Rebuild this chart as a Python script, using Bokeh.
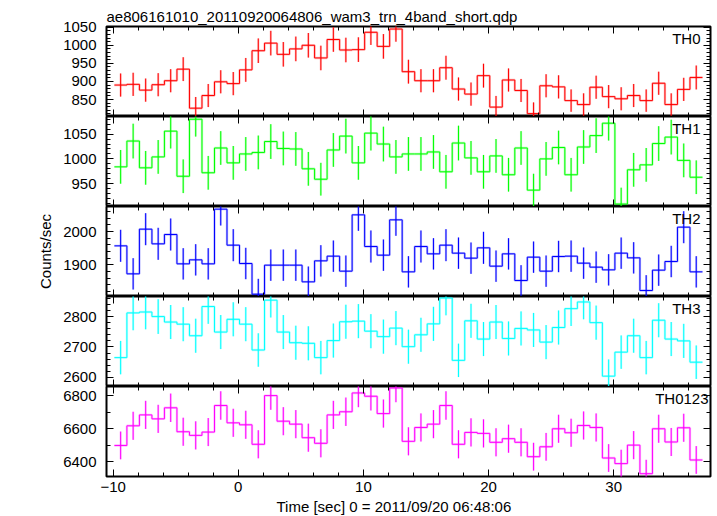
from bokeh.plotting import figure
from bokeh.layouts import column
from bokeh.models import FixedTicker, LinearAxis, Range1d, Label, Title
from bokeh.embed import file_html
from bokeh.resources import INLINE

# ---------------- data ----------------
title_text = "ae806161010_20110920064806_wam3_trn_4band_short.qdp"
x_label = "Time [sec] 0 = 2011/09/20 06:48:06"
y_label = "Counts/sec"

time = [-9.4, -8.4, -7.4, -6.4, -5.4, -4.4, -3.4, -2.4, -1.4, -0.4,
        0.6, 1.6, 2.6, 3.6, 4.6, 5.6, 6.6, 7.6, 8.6, 9.6,
        10.6, 11.6, 12.6, 13.6, 14.6, 15.6, 16.6, 17.6, 18.6, 19.6,
        20.6, 21.6, 22.6, 23.6, 24.6, 25.6, 26.6, 27.6, 28.6, 29.6,
        30.6, 31.6, 32.6, 33.6, 34.6, 35.6, 36.6]
bin_width = 1.0

th0 = [890, 892, 876, 891, 902, 934, 826, 861, 899, 894, 932, 985, 1006, 975, 990, 1000,
       965, 1016, 987, 988, 1036, 997, 1045, 927, 902, 902, 938, 879, 865, 916, 829, 904,
       875, 811, 888, 885, 847, 836, 884, 858, 852, 861, 847, 895, 836, 878, 911]
th0_err = [32, 32, 32, 32, 32, 33, 31, 32, 32, 32, 33, 34, 34, 34, 34, 34,
           34, 34, 34, 34, 35, 34, 35, 33, 32, 32, 33, 32, 32, 33, 31, 32,
           32, 31, 32, 32, 31, 31, 32, 32, 32, 32, 31, 32, 31, 32, 33]

th1 = [984, 1036, 982, 1004, 1056, 965, 1080, 972, 1022, 992, 1010, 1013, 1035, 1021, 1020, 980,
       959, 1018, 1046, 992, 1052, 1030, 1004, 1010, 1010, 1014, 974, 1032, 1002, 974, 1006, 968,
       1022, 937, 1000, 1023, 968, 1024, 1047, 1072, 909, 978, 988, 1031, 1044, 997, 963]
th1_err = [34, 35, 34, 34, 35, 34, 35, 34, 34, 34, 34, 34, 35, 34, 34, 34,
           33, 34, 35, 34, 35, 35, 34, 34, 34, 34, 34, 35, 34, 34, 34, 34,
           34, 33, 34, 34, 34, 34, 35, 35, 33, 34, 34, 35, 35, 34, 34]

th2 = [1957, 1873, 2007, 1963, 1991, 1903, 1915, 1903, 2067, 1959, 1904, 1812, 1899, 1899, 1899, 1849,
       1912, 1926, 1881, 2050, 1955, 1929, 2035, 1879, 1955, 1933, 1959, 1935, 1920, 1951, 1896, 1933,
       1853, 1923, 1881, 1925, 1926, 1905, 1893, 1885, 1935, 1921, 1823, 1884, 1910, 2013, 1879]
th2_err = [48, 47, 48, 48, 48, 47, 47, 47, 49, 48, 47, 46, 47, 47, 47, 46,
           47, 47, 47, 48, 48, 47, 48, 47, 48, 47, 48, 47, 47, 48, 47, 47,
           46, 47, 47, 47, 47, 47, 47, 47, 47, 47, 46, 47, 47, 48, 47]

th3 = [2665, 2812, 2815, 2800, 2782, 2775, 2737, 2833, 2749, 2791, 2775, 2690, 2854, 2749, 2714, 2712,
       2665, 2721, 2783, 2785, 2752, 2734, 2762, 2701, 2740, 2776, 2861, 2656, 2786, 2726, 2782, 2728,
       2761, 2756, 2716, 2764, 2826, 2848, 2780, 2604, 2683, 2737, 2665, 2788, 2726, 2720, 2650]
th3_err = [55, 57, 57, 57, 56, 56, 56, 57, 56, 56, 56, 55, 57, 56, 56, 56,
           55, 56, 56, 56, 56, 56, 56, 56, 56, 56, 57, 55, 56, 56, 56, 56,
           56, 56, 56, 56, 57, 57, 56, 55, 55, 56, 55, 56, 56, 56, 55]

th0123 = [6498, 6617, 6683, 6659, 6726, 6581, 6559, 6579, 6740, 6635, 6623, 6505, 6800, 6645, 6627, 6545,
          6511, 6683, 6702, 6816, 6796, 6691, 6846, 6523, 6607, 6627, 6740, 6505, 6577, 6571, 6517, 6539,
          6517, 6430, 6490, 6599, 6575, 6619, 6607, 6422, 6388, 6500, 6327, 6599, 6519, 6605, 6410]
th0123_err = [84, 85, 85, 85, 86, 85, 85, 85, 86, 85, 85, 85, 86, 85, 85, 85,
              85, 85, 86, 86, 86, 85, 86, 85, 85, 85, 86, 85, 85, 85, 85, 85,
              85, 84, 84, 85, 85, 85, 85, 84, 84, 85, 84, 85, 85, 85, 84]

panel_names = ["TH0", "TH1", "TH2", "TH3", "TH0123"]
panel_values = [th0, th1, th2, th3, th0123]
panel_errors = [th0_err, th1_err, th2_err, th3_err, th0123_err]

x_major_ticks = [-10, 0, 10, 20, 30]
x_tick_labels = {-10: "\u221210", 0: "0", 10: "10", 20: "20", 30: "30"}

# ---------------- style / layout ----------------
colors = ["#ff0000", "#00ff00", "#0000ff", "#00ffff", "#ff00ff"]
y_ranges = [(803, 1052), (904, 1085.5), (1805, 2075), (2570, 2866), (6310, 6855)]
y_major = [[850, 900, 950, 1000, 1050], [950, 1000, 1050], [1900, 2000],
           [2600, 2700, 2800], [6400, 6600, 6800]]
y_minor = [list(range(810, 1051, 10)), list(range(910, 1081, 10)), list(range(1820, 2061, 20)),
           list(range(2600, 2861, 20)), list(range(6400, 6801, 100))]
label_dx = [10, 10, 10, 10, 2]

FONT = "Liberation Sans"
FW, FH = 604, 90
LEFT_BORDER = 106
x_range = Range1d(-10.53, 37.74)
x_minor_ticks = list(range(-10, 38, 2))


def tick_style(ax):
    ax.axis_line_color = None
    ax.major_tick_in = 7
    ax.major_tick_out = 0
    ax.minor_tick_in = 4
    ax.minor_tick_out = 0
    ax.major_tick_line_color = "black"
    ax.minor_tick_line_color = "black"
    ax.major_label_text_font = FONT
    ax.major_label_text_font_size = "15px"
    ax.major_label_text_color = "black"


def add_tick_only_axes(p, side, fixed, major, minor):
    # two label-free axes (no major ticks): one for short minor ticks, one for long major ticks
    for pos, length in ((minor, 4), (major, 7)):
        ax = LinearAxis(ticker=FixedTicker(ticks=[], minor_ticks=pos), fixed_location=fixed)
        tick_style(ax)
        ax.minor_tick_in = length
        p.add_layout(ax, side)


def text_title(text, align, offset, standoff):
    return Title(text=text, align=align, offset=offset, standoff=standoff,
                 text_font=FONT, text_font_size="15px", text_font_style="normal",
                 text_color="black")


figs = []
n = len(panel_names)
for i in range(n):
    first = i == 0
    last = i == n - 1
    y0, y1 = y_ranges[i]
    p = figure(frame_width=FW, frame_height=FH, x_range=x_range,
               y_range=Range1d(y0, y1), output_backend="svg", toolbar_location=None,
               x_axis_location=None, y_axis_location=None,
               min_border_left=LEFT_BORDER, min_border_right=2,
               min_border_top=26 if first else 0, min_border_bottom=0,
               background_fill_color="white", border_fill_color="white")
    p.grid.visible = False
    p.outline_line_color = "black"
    p.outline_line_width = 2

    if first:
        p.title.text = title_text
        p.title.text_font = FONT
        p.title.text_font_size = "15px"
        p.title.text_font_style = "normal"
        p.title.text_color = "black"
        p.title.align = "left"
        p.title.standoff = 4

    yt = FixedTicker(ticks=y_major[i], minor_ticks=y_minor[i])
    left = LinearAxis(ticker=yt)
    tick_style(left)
    left.major_label_standoff = 10
    p.add_layout(left, "left")
    if i == 2:
        p.add_layout(text_title(y_label, "center", -7, 13), "left")

    add_tick_only_axes(p, "right", x_range.end, y_major[i], y_minor[i])
    add_tick_only_axes(p, "above", y1, x_major_ticks, x_minor_ticks)

    if last:
        below = LinearAxis(ticker=FixedTicker(ticks=x_major_ticks, minor_ticks=x_minor_ticks))
        tick_style(below)
        below.major_label_overrides = x_tick_labels
        below.major_label_standoff = 5
        p.add_layout(below, "below")
        p.add_layout(text_title(x_label, "left", 170, 2), "below")
    else:
        add_tick_only_axes(p, "below", y0, x_major_ticks, x_minor_ticks)

    vals = panel_values[i]
    errs = panel_errors[i]
    col = colors[i]
    edges = [t - bin_width / 2 for t in time] + [time[-1] + bin_width / 2]
    steps = list(vals) + [vals[-1]]
    lo = [v - e for v, e in zip(vals, errs)]
    hi = [v + e for v, e in zip(vals, errs)]

    p.segment(x0=time, y0=lo, x1=time, y1=hi, line_color=col, line_width=2.2, line_alpha=0.25)
    p.step(edges, steps, mode="after", line_color=col, line_width=2.4, line_alpha=0.25)
    p.segment(x0=time, y0=lo, x1=time, y1=hi, line_color=col, line_width=1)
    p.step(edges, steps, mode="after", line_color=col, line_width=1)

    p.add_layout(Label(x=FW - label_dx[i], y=FH - 3, x_units="screen", y_units="screen",
                       text=panel_names[i], text_align="right", text_baseline="top",
                       text_font=FONT, text_font_size="15px", text_color="black"))
    figs.append(p)

layout = column(*figs, spacing=0)
open("out.html", "w").write(file_html(layout, INLINE))
